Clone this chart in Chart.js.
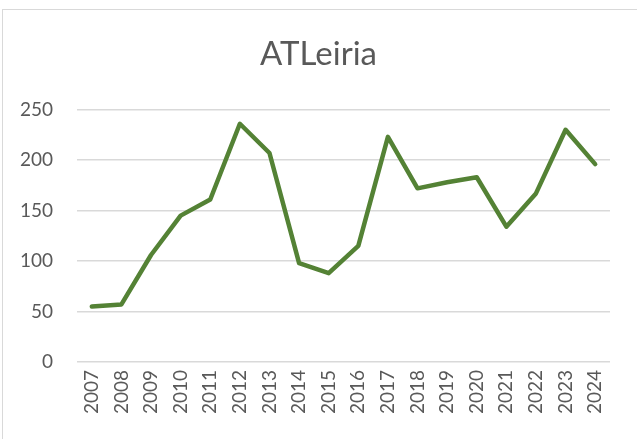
<!DOCTYPE html>
<html>
<head>
<meta charset="utf-8">
<script src="https://cdn.jsdelivr.net/npm/chart.js@4"></script>
<style>
  html, body { margin: 0; padding: 0; background: #fff; }
  #wrap { position: relative; width: 637px; height: 439px; }
</style>
</head>
<body>
<div id="wrap"><canvas id="chart" width="637" height="439"></canvas></div>
<script>
const years = ['2007', '2008', '2009', '2010', '2011', '2012', '2013', '2014', '2015',
  '2016', '2017', '2018', '2019', '2020', '2021', '2022', '2023', '2024'];
const values = [55, 57, 106, 145, 161, 236, 207, 98, 88, 115, 223, 172, 178, 183, 134, 167, 230, 196];
const yTicks = [0, 50, 100, 150, 200, 250];

const textColor = '#595959';
const fontFamily = 'Lato, "Open Sans", sans-serif';

// light frame around the chart, like the Excel chart area
const frame = {
  id: 'frame',
  beforeDraw(chart) {
    const c = chart.ctx;
    c.save();
    c.fillStyle = '#fff';
    c.fillRect(0, 0, chart.width, chart.height);
    c.strokeStyle = '#d9d9d9';
    c.lineWidth = 1;
    c.strokeRect(2.5, 9.5, chart.width + 10, chart.height + 10);
    c.restore();
  }
};

new Chart(document.getElementById('chart').getContext('2d'), {
  type: 'line',
  data: {
    labels: years,
    datasets: [{
      label: 'ATLeiria',
      data: values,
      borderColor: '#548235',
      borderWidth: 4.5,
      borderCapStyle: 'round',
      borderJoinStyle: 'round',
      pointRadius: 0,
      tension: 0,
      fill: false
    }]
  },
  options: {
    responsive: false,
    animation: false,
    layout: { padding: 0 },
    plugins: {
      legend: { display: false },
      tooltip: { enabled: false },
      title: {
        display: true,
        text: 'ATLeiria',
        color: textColor,
        font: { family: fontFamily, size: 33, weight: 'normal' },
        padding: { top: 35, bottom: 35 }
      }
    },
    scales: {
      x: {
        offset: true,
        grid: { display: false, drawTicks: false },
        border: { display: false },
        ticks: {
          color: textColor,
          font: { family: fontFamily, size: 19 },
          maxRotation: 90,
          minRotation: 90,
          autoSkip: false,
          padding: 8
        },
        afterFit(scale) { scale.height = 77; }
      },
      y: {
        min: 0,
        max: 250,
        afterBuildTicks(scale) { scale.ticks = yTicks.map(v => ({ value: v })); },
        grid: { color: '#d9d9d9', lineWidth: 1.5, drawTicks: false },
        border: { display: false },
        ticks: {
          color: textColor,
          font: { family: fontFamily, size: 19 },
          padding: 24
        },
        afterFit(scale) { scale.width = 77; }
      },
      // empty right margin so the title stays centred on the whole frame
      spacer: {
        position: 'right',
        grid: { display: false, drawTicks: false },
        border: { display: false },
        ticks: { display: false },
        afterFit(scale) { scale.width = 27; }
      }
    }
  },
  plugins: [frame]
});
</script>
</body>
</html>
